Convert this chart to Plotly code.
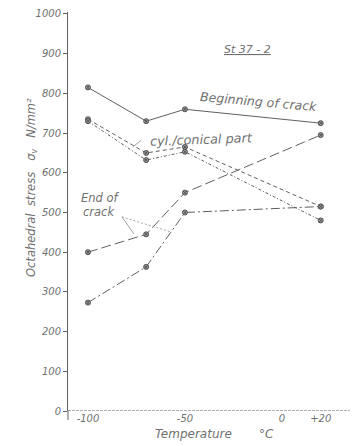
import plotly.graph_objects as go

temps = [-100, -70, -50, 20]
beginning = [815, 730, 760, 725]
cyl_a = [735, 650, 665, 515]
cyl_b = [730, 632, 653, 480]
end_a = [400, 445, 550, 695]
end_b = [273, 363, 500, 515]

y_ticks = list(range(0, 1001, 100))
x_tickvals = [-100, -50, 0, 20]
x_ticktext = ["-100", "-50", "0", "+20"]

FONT = "DejaVu Sans"
TXT = "#707070"
LINE = "#606060"

fig = go.Figure()
mk = dict(symbol="circle-x", size=5, color="#999", line=dict(color="#555", width=1))

def add(y, dash):
    fig.add_trace(go.Scatter(x=temps, y=y, mode="lines+markers",
                             line=dict(color=LINE, width=1, dash=dash),
                             marker=mk, showlegend=False, hoverinfo="skip"))

add(beginning, "solid")
add(cyl_a, "4px,3px")
add(cyl_b, "3px,2px,1px,2px")
add(end_a, "10px,4px")
add(end_b, "9px,3px,2px,3px")

# x axis line at y = 0
fig.add_shape(type="line", xref="paper", x0=0, x1=1, yref="y", y0=0, y1=0,
              line=dict(color=LINE, width=1, dash="3px,1px"))
# y axis tail below zero
fig.add_shape(type="line", xref="paper", x0=0, x1=0, yref="paper", y0=0, y1=-9 / 399.0,
              line=dict(color=LINE, width=1))
# leader lines
fig.add_shape(type="line", x0=-82.5, y0=489, x1=-76.3, y1=446, line=dict(color="#888", width=0.8))
fig.add_shape(type="line", x0=-82.5, y0=489, x1=-57.2, y1=451, line=dict(color="#888", width=0.8, dash="2px,2px"))
fig.add_shape(type="line", x0=-72.5, y0=682, x1=-77, y1=665, line=dict(color="#888", width=0.8))

anns = [
    dict(x=247, y=49, text="<u>St 37 - 2</u>", size=11, angle=0),
    dict(x=258, y=101, text="Beginning of crack", size=12.5, angle=5),
    dict(x=201, y=139, text="cyl./conical part", size=12.8, angle=-2),
    dict(x=100, y=198, text="End of", size=11.5, angle=0),
    dict(x=99, y=212, text="crack", size=11.5, angle=0),
    dict(x=193, y=434, text="Temperature", size=12, angle=0),
    dict(x=266, y=434, text="°C", size=12, angle=0),
    dict(x=31, y=188, text="Octahedral\u00a0\u00a0stress\u00a0\u00a0\u00a0σ<sub>v</sub>\u00a0\u00a0\u00a0N/mm²", size=11.5, angle=-90),
]
for a in anns:
    fig.add_annotation(xref="paper", yref="paper",
                       x=(a["x"] - 68) / 282.0,
                       y=(411 - a["y"]) / 399.0,
                       text=a["text"], showarrow=False, textangle=a["angle"],
                       xanchor="center", yanchor="middle",
                       font=dict(family=FONT, size=a["size"], color=TXT, style="italic"))

fig.update_layout(
    width=356, height=446,
    margin=dict(l=68, r=6, t=12, b=35),
    paper_bgcolor="white", plot_bgcolor="white",
    xaxis=dict(range=[-110.3, 35.1], tickvals=x_tickvals, ticktext=x_ticktext,
               showgrid=False, zeroline=False, showline=False, ticks="",
               tickfont=dict(family=FONT, size=10, color=TXT, style="italic")),
    yaxis=dict(range=[0, 1005], tickvals=y_ticks, showgrid=False, zeroline=False,
               showline=True, linecolor=LINE, linewidth=1, ticks="outside", ticklen=4,
               tickcolor=LINE,
               tickfont=dict(family=FONT, size=10, color=TXT, style="italic")),
)
fig.write_html("out.html", config={"displayModeBar": False},
               post_script="document.body.style.margin='0';document.body.style.overflow='hidden';")
